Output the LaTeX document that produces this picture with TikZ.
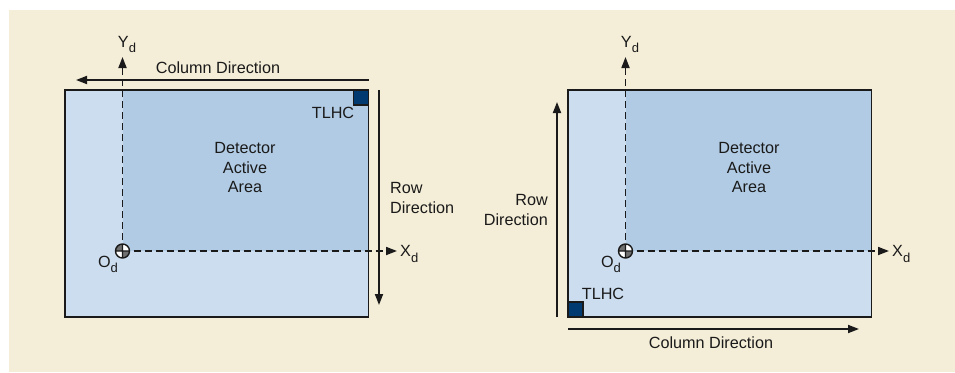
\documentclass[tikz,border=0pt]{standalone}
\usepackage{fontspec}
\setmainfont{Liberation Sans}
\usetikzlibrary{arrows.meta}
\definecolor{bgbeige}{HTML}{F4EDD7}
\definecolor{areablue}{HTML}{CCDDEF}
\definecolor{activeblue}{HTML}{B1CBE4}
\definecolor{tlhcblue}{HTML}{003A70}
\definecolor{edgegray}{HTML}{1A1A1A}
\definecolor{quadgray}{HTML}{707070}
\newcommand{\axisname}[2]{#1\raisebox{-0.6ex}{\fontsize{13}{13}\selectfont #2}}
\tikzset{
  txt/.style={font=\fontsize{16.2}{19.5}\selectfont, inner sep=0pt, text=edgegray},
  dirarrow/.style={draw=edgegray, line width=1.8pt, -{Triangle[length=11pt,width=8pt]}},
  axisarrow/.style={draw=edgegray, line width=1.7pt, dash pattern=on 7pt off 4pt,
    -{Triangle[length=11pt,width=8pt]}},
  frame/.style={draw=edgegray, line width=1.8pt},
  corner/.style={fill=tlhcblue, draw=edgegray, line width=1.3pt}
}
\begin{document}
\begin{tikzpicture}[x=1pt,y=-1pt]
  \useasboundingbox (0,0) rectangle (955,372);
  \fill[bgbeige] (9,10) rectangle (955,372);

  % left panel: TLHC top right
  \fill[areablue] (65,90) rectangle (368.5,317);
  \fill[activeblue] (122.5,90) rectangle (368.5,251);
  \draw[frame] (65,90) rectangle (368.5,317);
  \draw[corner] (353.5,90) rectangle (368.5,105);
  \coordinate (Ol) at (122.5,251);
  \coordinate (Ylt) at (122.5,57);
  \coordinate (Xlt) at (397,251);
  \draw[axisarrow] (Ol) -- (Ylt);
  \draw[axisarrow] (Ol) -- (Xlt);
  \fill[white] (Ol) circle[radius=7];
  \fill[quadgray] (Ol) -- ++(-7,0) arc[start angle=180,end angle=270,radius=7] -- cycle;
  \fill[quadgray] (Ol) -- ++(7,0) arc[start angle=0,end angle=90,radius=7] -- cycle;
  \draw[edgegray, line width=1.4pt] (Ol) circle[radius=7] ++(-7,0) -- ++(14,0) (Ol) ++(0,-7) -- ++(0,14);
  \node[txt, anchor=south] (Yl) at (127,53) {\axisname{Y}{d}};
  \node[txt, anchor=west] (Xl) at (400,254) {\axisname{X}{d}};
  \node[txt] (Odl) at (108,264) {\axisname{O}{d}};
  \coordinate (Cls) at (368.5,80);
  \coordinate (Cle) at (76,80);
  \draw[dirarrow] (Cls) -- (Cle);
  \node[txt] (Coll) at (218,68) {Column Direction};
  \coordinate (Rls) at (379,90);
  \coordinate (Rle) at (379,305);
  \draw[dirarrow] (Rls) -- (Rle);
  \node[txt, anchor=west, align=left] (Rowl) at (390,198) {Row\\Direction};
  \node[txt] (Tlhcl) at (333,113) {TLHC};
  \node[txt, align=center] (Detl) at (245,168) {Detector\\Active\\Area};

  % right panel: TLHC bottom left
  \begin{scope}[xshift=503pt]
  \fill[areablue] (65,90) rectangle (368.5,317);
  \fill[activeblue] (122.5,90) rectangle (368.5,251);
  \draw[frame] (65,90) rectangle (368.5,317);
  \draw[corner] (65,302) rectangle (80,317);
  \coordinate (Or) at (122.5,251);
  \coordinate (Yrt) at (122.5,57);
  \coordinate (Xrt) at (386,251);
  \draw[axisarrow] (Or) -- (Yrt);
  \draw[axisarrow] (Or) -- (Xrt);
  \fill[white] (Or) circle[radius=7];
  \fill[quadgray] (Or) -- ++(-7,0) arc[start angle=180,end angle=270,radius=7] -- cycle;
  \fill[quadgray] (Or) -- ++(7,0) arc[start angle=0,end angle=90,radius=7] -- cycle;
  \draw[edgegray, line width=1.4pt] (Or) circle[radius=7] ++(-7,0) -- ++(14,0) (Or) ++(0,-7) -- ++(0,14);
  \node[txt, anchor=south] (Yr) at (127,53) {\axisname{Y}{d}};
  \node[txt, anchor=west] (Xr) at (389,254) {\axisname{X}{d}};
  \node[txt] (Odr) at (108,264) {\axisname{O}{d}};
  \coordinate (Crs) at (65,329);
  \coordinate (Cre) at (356,329);
  \draw[dirarrow] (Crs) -- (Cre);
  \node[txt] (Colr) at (208,343) {Column Direction};
  \coordinate (Rrs) at (54,317);
  \coordinate (Rre) at (54,102);
  \draw[dirarrow] (Rrs) -- (Rre);
  \node[txt, anchor=east, align=right] (Rowr) at (45,210) {Row\\Direction};
  \node[txt] (Tlhcr) at (100,294) {TLHC};
  \node[txt, align=center] (Detr) at (246,168) {Detector\\Active\\Area};
  \end{scope}
\end{tikzpicture}
\end{document}
